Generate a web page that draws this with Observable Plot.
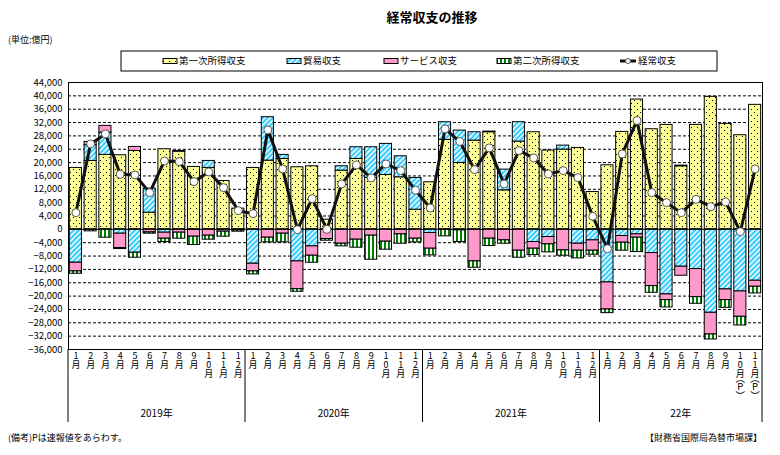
<!DOCTYPE html>
<html><head><meta charset="utf-8">
<script src="https://cdn.jsdelivr.net/npm/d3@7"></script>
<script src="https://cdn.jsdelivr.net/npm/@observablehq/plot@0.6"></script>
<style>
body{margin:0;background:#fff;}
#chart{position:relative;width:780px;height:455px;}
</style></head><body>
<svg width="0" height="0" style="position:absolute">
<defs>
<pattern id="pYellow" width="6" height="6" patternUnits="userSpaceOnUse">
 <rect width="6" height="6" fill="#FFFF99"/>
 <rect x="1" y="1" width="1" height="1" fill="#000"/>
 <rect x="4" y="4" width="1" height="1" fill="#000"/>
</pattern>
<pattern id="pCyan" width="3.6" height="10" patternUnits="userSpaceOnUse" patternTransform="rotate(45)">
 <rect width="3.6" height="10" fill="#33CCFF"/>
 <rect x="0" y="0" width="1.5" height="10" fill="#fff"/>
</pattern>
<pattern id="pGreen" width="4" height="4" patternUnits="userSpaceOnUse">
 <rect width="4" height="4" fill="#fff"/>
 <rect x="0" y="0" width="2" height="4" fill="#008000"/>
</pattern>
</defs></svg>
<div id="chart"></div>
<script>
const years = [2019, 2020, 2021, 2022];
const yearLabels = ["2019年", "2020年", "2021年", "22年"];
const monthsPerYear = [12, 12, 12, 11];
const monthLabels = [
 "1\n月","2\n月","3\n月","4\n月","5\n月","6\n月","7\n月","8\n月","9\n月","1\n0\n月","1\n1\n月","1\n2\n月",
 "1\n月","2\n月","3\n月","4\n月","5\n月","6\n月","7\n月","8\n月","9\n月","1\n0\n月","1\n1\n月","1\n2\n月",
 "1\n月","2\n月","3\n月","4\n月","5\n月","6\n月","7\n月","8\n月","9\n月","1\n0\n月","1\n1\n月","1\n2\n月",
 "1\n月","2\n月","3\n月","4\n月","5\n月","6\n月","7\n月","8\n月","9\n月","1\n0\n月","1\n1\n月"
];
const provisionalMark = "︵\nP\n︶";
const provisionalMonths = ["2022-10", "2022-11"];
const seriesNames = ["第一次所得収支", "貿易収支", "サービス収支", "第二次所得収支"];
const primaryIncome = [
 18400, 20500, 22300, 22200, 23500, 5000, 24000, 23300, 18700, 18400, 14500, 6200,
 18400, 20600, 21100, 18600, 18900, 2900, 17600, 21100, 15400, 16300, 15600, 5900,
 14100, 26800, 19900, 26600, 29100, 11700, 26300, 29100, 23600, 23900, 24400, 11200,
 19200, 29200, 38900, 30000, 31300, 18900, 31300, 39700, 31600, 28200, 37300
];
const tradeBalance = [
 -10000, 4700, 6700, -1300, -7000, 7200, -1000, 200, -100, 2100, -100, -100,
 -10300, 13000, 1200, -9600, -5100, -100, 1300, 3500, 9200, 9300, 6300, 9500,
 -1100, 5300, 9700, 2500, 200, 6200, 5800, -3800, -2300, 1200, -4300, -3300,
 -15900, -2000, -1500, -7100, -19500, -11200, -11900, -25000, -18000, -18600, -15400
];
const servicesBalance = [
 -2600, 1000, 2000, -4300, 1200, -900, -1800, -1000, -2100, -1900, -600, -200,
 -2300, -2500, -1300, -8300, -2800, -2800, -4300, -3100, -1900, -3700, -1500, -2800,
 -4700, -200, -300, -9600, -2800, -3300, -6400, -2000, -2200, -6300, -2100, -3100,
 -8100, -2000, -1000, -9900, -1700, -2700, -8400, -6500, -3200, -7600, -1800
];
const secondaryIncome = [
 -700, -600, -2500, -300, -1500, -400, -1000, -1800, -2500, -1200, -1500, -400,
 -900, -1400, -2600, -800, -2100, -500, -800, -2400, -7200, -2400, -2800, -1100,
 -2000, -1900, -3500, -1900, -2200, -1000, -2100, -1900, -2400, -1600, -2300, -1200,
 -1100, -2400, -4300, -2000, -2200, 200, -2000, -1500, -2300, -2600, -2000
];
const currentAccount = [
 5000, 25600, 28600, 16500, 16300, 11000, 20500, 20300, 14300, 17200, 12500, 5600,
 4700, 29800, 18100, -100, 9200, 0, 13600, 19300, 15400, 19600, 17600, 11700,
 6400, 30100, 26300, 17900, 24400, 13600, 23600, 21400, 16600, 17600, 15500, 3900,
 -5800, 22600, 32600, 11000, 8000, 5000, 9000, 6800, 8200, -700, 18100
];
const yTicks = d3.range(-36000, 44001, 4000);

const FONT = "'Noto Sans CJK JP', 'Noto Sans', sans-serif";
const keys = [];
years.forEach((y, yi) => { for (let m = 1; m <= monthsPerYear[yi]; m++) keys.push(`${y}-${String(m).padStart(2, "0")}`); });
const seriesValues = [primaryIncome, tradeBalance, servicesBalance, secondaryIncome];
const fills = ["url(#pYellow)", "url(#pCyan)", "#FF99CC", "url(#pGreen)"];
const barData = [];
seriesNames.forEach((s, si) => seriesValues[si].forEach((v, i) => barData.push({month: keys[i], series: s, value: v})));
const lineData = currentAccount.map((v, i) => ({month: keys[i], value: v}));

const plot = Plot.plot({
  width: 780, height: 455,
  marginTop: 82, marginBottom: 106, marginLeft: 68, marginRight: 18,
  style: {fontFamily: FONT, fontSize: "9.5px", background: "transparent", color: "#000", overflow: "visible"},
  x: {domain: keys, paddingInner: 0.18, paddingOuter: 0.09, axis: null},
  y: {domain: [-36000, 44000], axis: null},
  color: {domain: seriesNames, range: fills},
  marks: [
    Plot.gridY(yTicks.filter(t => t !== 0 && t !== 44000 && t !== -36000), {stroke: "#000", strokeOpacity: 1, strokeDasharray: "3,2", strokeWidth: 1}),
    Plot.barY(barData, Plot.stackY({x: "month", y: "value", fill: "series", stroke: "#000", strokeWidth: 1})),
    Plot.ruleY([0], {stroke: "#000", strokeWidth: 1}),
    Plot.line(lineData, {x: "month", y: "value", stroke: "#111", strokeWidth: 3}),
    Plot.dot(lineData, {x: "month", y: "value", r: 4, fill: "#fff", stroke: "#555", strokeWidth: 1}),
    Plot.axisY(yTicks, {tickSize: 0, tickPadding: 6, tickFormat: d3.format(","), fontSize: 9.5, label: null}),
    Plot.text(keys, {x: d => d, text: (d, i) => monthLabels[i], frameAnchor: "bottom", lineAnchor: "top", dy: 3, lineHeight: 1, fontSize: 9}),
    Plot.text(provisionalMonths, {x: d => d, text: () => provisionalMark, frameAnchor: "bottom", lineAnchor: "top", dy: 26, lineHeight: 0.9, fontSize: 9.5}),
    Plot.frame({stroke: "#000", strokeWidth: 1})
  ]
});
document.getElementById("chart").appendChild(plot);

const svg = d3.select(plot);
const xs = plot.scale("x");
const gap = xs.step - xs.bandwidth;
let idx = 0;
const bounds = [];
years.forEach((y, yi) => {
  const first = keys[idx], last = keys[idx + monthsPerYear[yi] - 1];
  const x0 = xs.apply(first) - gap / 2;
  const x1 = xs.apply(last) + xs.bandwidth + gap / 2;
  bounds.push([x0, x1, yearLabels[yi]]);
  idx += monthsPerYear[yi];
});
const bottom = 455 - 106;
const g = svg.append("g").attr("font-family", FONT).attr("text-anchor", "start");
const seps = new Set();
bounds.forEach(([x0, x1]) => { seps.add(Math.round(x0 * 2) / 2); seps.add(Math.round(x1 * 2) / 2); });
[...seps].forEach(x => g.append("line").attr("x1", x).attr("x2", x).attr("y1", bottom).attr("y2", 422).attr("stroke", "#000"));
bounds.forEach(([x0, x1, lab]) => g.append("text").attr("x", (x0 + x1) / 2).attr("y", 417).attr("text-anchor", "middle").attr("font-size", 10).text(lab));

g.append("text").attr("x", 432).attr("y", 22).attr("text-anchor", "middle").attr("font-size", 13).attr("font-weight", "bold").text("経常収支の推移");
g.append("text").attr("x", 8).attr("y", 43).attr("text-anchor", "start").attr("font-size", 9).text("(単位:億円)");
g.append("text").attr("x", 8).attr("y", 441).attr("text-anchor", "start").attr("font-size", 9).text("(備考)Pは速報値をあらわす。");
g.append("text").attr("x", 762).attr("y", 441).attr("text-anchor", "end").attr("font-size", 9).text("【財務省国際局為替市場課】");

const lg = g.append("g");
lg.append("rect").attr("x", 121).attr("y", 51).attr("width", 596).attr("height", 20).attr("fill", "#fff").attr("stroke", "#000");
const legendX = [163, 287, 384, 497, 620];
seriesNames.forEach((s, i) => {
  lg.append("rect").attr("x", legendX[i]).attr("y", 58.5).attr("width", 14).attr("height", 5).attr("fill", fills[i]).attr("stroke", "#000");
  lg.append("text").attr("x", legendX[i] + 16).attr("y", 61).attr("dy", "0.35em").attr("text-anchor", "start").attr("font-size", 9.5).text(s);
});
lg.append("line").attr("x1", 620).attr("x2", 636).attr("y1", 61).attr("y2", 61).attr("stroke", "#111").attr("stroke-width", 3);
lg.append("circle").attr("cx", 628).attr("cy", 61).attr("r", 2.5).attr("fill", "#fff").attr("stroke", "#555");
lg.append("text").attr("x", 638).attr("y", 61).attr("dy", "0.35em").attr("text-anchor", "start").attr("font-size", 9.5).text("経常収支");
</script>
</body></html>
